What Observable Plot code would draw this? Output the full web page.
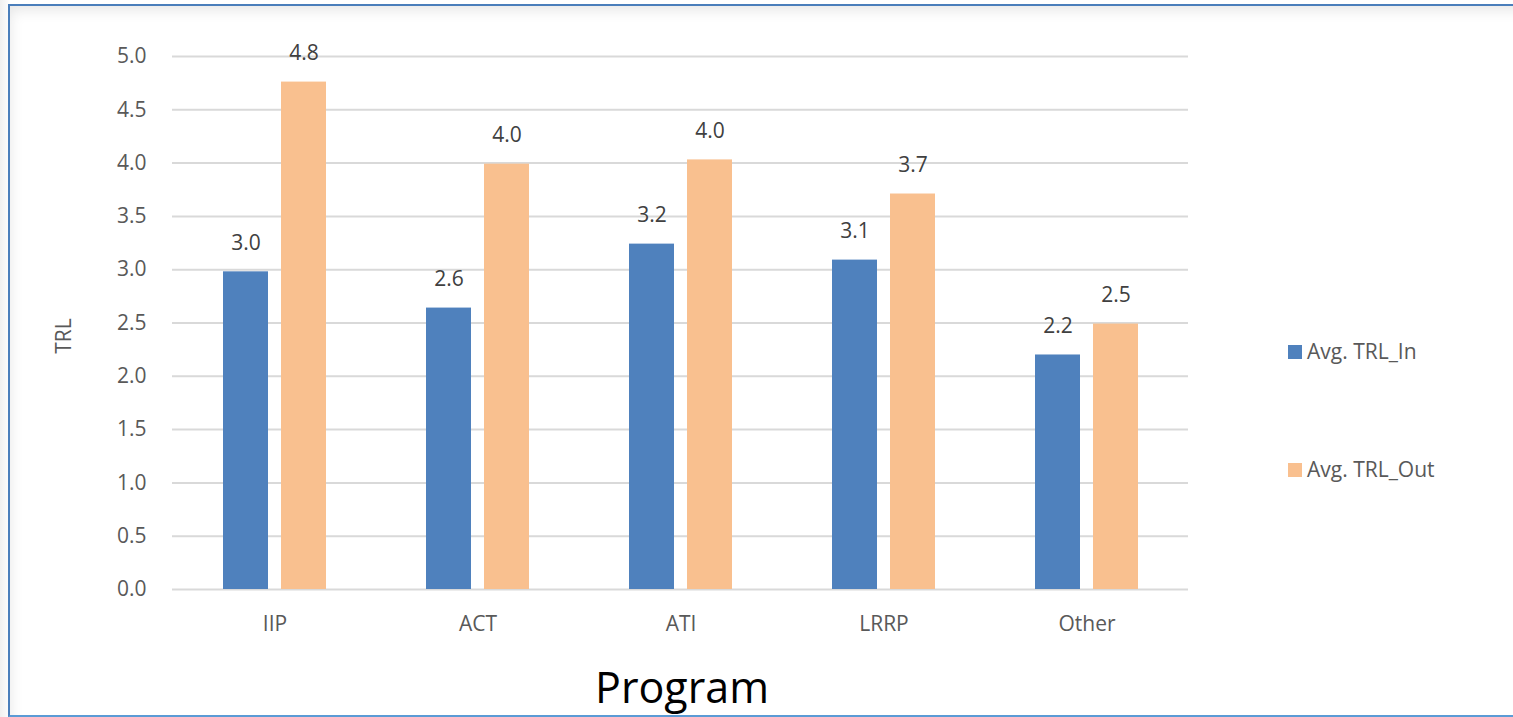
<!DOCTYPE html>
<html>
<head>
<meta charset="utf-8">
<script src="https://cdn.jsdelivr.net/npm/d3@7"></script>
<script src="https://cdn.jsdelivr.net/npm/@observablehq/plot@0.6"></script>
<style>
  html, body { margin: 0; padding: 0; background: #ffffff; overflow: hidden; }
  #page { position: relative; width: 1513px; height: 717px; background: linear-gradient(to right, #f0f0f0, #fbfbfb 8px, #ffffff 9px); }
  #frame {
    position: absolute; left: 8px; top: 4px; width: 1520px; height: 709px;
    border-left: 2px solid #4a7ebb; border-top: 2px solid #4a7ebb; border-bottom: 2px solid #5b9bd5;
    background: #ffffff;
    box-shadow: inset 8px 12px 14px -8px rgba(0, 0, 0, 0.10);
  }
  #chart { position: absolute; left: 0; top: 0; }
</style>
</head>
<body>
<div id="page">
  <div id="frame"></div>
  <div id="chart"></div>
</div>
<script>
// Average TRL entering and leaving each program
const programs = ["IIP", "ACT", "ATI", "LRRP", "Other"];
const seriesNames = ["Avg. TRL_In", "Avg. TRL_Out"];
const trlIn = [2.98, 2.64, 3.24, 3.09, 2.20];
const trlOut = [4.76, 3.99, 4.03, 3.71, 2.49];
const yTicks = [0, 0.5, 1, 1.5, 2, 2.5, 3, 3.5, 4, 4.5, 5];
const seriesColors = ["#4f81bd", "#f9c08f"];

const rows = programs.flatMap((program, i) => [
  {program, series: seriesNames[0], value: trlIn[i]},
  {program, series: seriesNames[1], value: trlOut[i]}
]);
const inRows = rows.filter(d => d.series === seriesNames[0]);
const outRows = rows.filter(d => d.series === seriesNames[1]);

const fmt = d3.format(".1f");
const bandInset = 79;   // leaves 45px bars inside each program band
const shift = 29;       // half the distance between paired bar centres

const chart = Plot.plot({
  width: 1513,
  height: 717,
  marginLeft: 172,
  marginRight: 325,
  marginTop: 56,
  marginBottom: 128,
  style: {fontFamily: "'Open Sans', sans-serif", fontSize: "21px", color: "#595959", background: "none", overflow: "visible"},
  x: {domain: programs, padding: 0, label: null, tickSize: 0, tickPadding: 27},
  y: {domain: [0, 5], ticks: yTicks, tickFormat: fmt, label: null, tickSize: 0, tickPadding: 26},
  color: {domain: seriesNames, range: seriesColors},
  marks: [
    Plot.ruleY(yTicks, {stroke: "#d9d9d9", strokeWidth: 2}),
    Plot.barY(inRows, {x: "program", y: "value", fill: "series", dx: -shift, insetLeft: bandInset, insetRight: bandInset}),
    Plot.barY(outRows, {x: "program", y: "value", fill: "series", dx: shift, insetLeft: bandInset, insetRight: bandInset}),
    Plot.text(inRows, {x: "program", y: "value", text: d => fmt(d.value), dx: -shift, dy: -22, lineAnchor: "bottom", fill: "#404040", fontSize: 21}),
    Plot.text(outRows, {x: "program", y: "value", text: d => fmt(d.value), dx: shift, dy: -22, lineAnchor: "bottom", fill: "#404040", fontSize: 21})
  ]
});

document.getElementById("chart").appendChild(chart);

const svg = d3.select(chart);
const color = chart.scale("color");

// Axis titles
svg.append("text")
  .attr("x", 682).attr("y", 703)
  .attr("text-anchor", "middle")
  .attr("font-family", "'Open Sans', sans-serif")
  .attr("font-size", 43)
  .attr("fill", "#000000")
  .text("Program");

svg.append("text")
  .attr("transform", "translate(64,336) rotate(-90)")
  .attr("text-anchor", "middle")
  .attr("dy", "0.35em")
  .attr("font-family", "'Open Sans', sans-serif")
  .attr("font-size", 21)
  .attr("fill", "#595959")
  .text("TRL");

// Legend
const legend = svg.append("g")
  .attr("font-family", "'Open Sans', sans-serif")
  .attr("font-size", 21)
  .attr("fill", "#595959")
  .attr("text-anchor", "start");
seriesNames.forEach((name, i) => {
  const top = 345 + i * 118;
  legend.append("rect").attr("x", 1288).attr("y", top).attr("width", 14).attr("height", 14).attr("fill", color.apply(name));
  legend.append("text").attr("x", 1307).attr("y", top + 7).attr("dy", "0.35em").text(name);
});
</script>
</body>
</html>
